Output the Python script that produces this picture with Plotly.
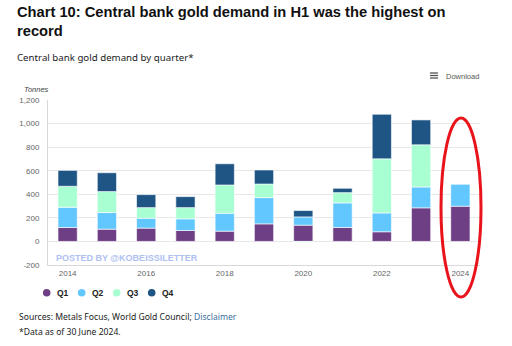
import plotly.graph_objects as go

years = [2014, 2015, 2016, 2017, 2018, 2019, 2020, 2021, 2022, 2023, 2024]
q1 = [118, 104, 113, 93, 87, 149, 138, 118, 82, 285, 299]
q2 = [172, 141, 84, 99, 152, 223, 70, 209, 160, 177, 186]
q3 = [178, 178, 90, 95, 240, 115, -6, 87, 459, 358, None]
q4 = [135, 160, 110, 93, 180, 119, 54, 37, 378, 211, None]
series_names = ["Q1", "Q2", "Q3", "Q4"]
colors = ["#6f3f85", "#63c7ff", "#a8ffd2", "#1f5585"]
tick_years = [2014, 2016, 2018, 2020, 2022, 2024]
y_ticks = [-200, 0, 200, 400, 600, 800, 1000, 1200]
y_tick_text = ["-200", "0", "200", "400", "600", "800", "1,000", "1,200"]

fig = go.Figure()
for name, vals, col in zip(series_names, [q1, q2, q3, q4], colors):
    fig.add_trace(go.Bar(x=years, y=vals, name=name, marker_color=col,
                         marker_line_color="white", marker_line_width=0.6,
                         width=0.49, showlegend=False))

W, H = 512, 346
pl, pr, pt, pb = 48, 480, 100, 265

fig.update_layout(
    width=W, height=H, barmode="relative",
    margin=dict(l=pl, r=W - pr, t=pt, b=H - pb),
    paper_bgcolor="white", plot_bgcolor="white",
    font=dict(family="Liberation Sans, Arial", color="#666666", size=8),
    xaxis=dict(range=[2013.5, 2024.5], tickvals=tick_years,
               ticktext=[str(t) for t in tick_years], showgrid=False,
               showline=True, linecolor="#d8d8d8", linewidth=1,
               ticks="", tickfont=dict(size=8, color="#666666"), zeroline=False),
    yaxis=dict(range=[-200, 1200], tickvals=y_ticks, ticktext=y_tick_text,
               showgrid=True, gridcolor="#e8e8e8", gridwidth=1,
               showline=True, linecolor="#d8d8d8", linewidth=1,
               zeroline=False, ticks="", ticklabelstandoff=6,
               tickfont=dict(size=8, color="#666666")),
    showlegend=False,
)


def px2paper(x, y):
    return (x - pl) / (pr - pl), (pb - y) / (pb - pt)


anns = [
    dict(text="<b>Chart 10: Central bank gold demand in H1 was the highest on</b>",
         x=15, y=12, font=dict(size=14.7, color="#111111", family="Liberation Sans, Arial")),
    dict(text="<b>record</b>", x=15, y=31,
         font=dict(size=14.7, color="#111111", family="Liberation Sans, Arial")),
    dict(text="Central bank gold demand by quarter*", x=15, y=58,
         font=dict(size=9.7, color="#222222", family="Noto Sans")),
    dict(text="Download", x=444, y=76, font=dict(size=7.5, color="#555555", family="Liberation Sans, Arial")),
    dict(text="<i>Tonnes</i>", x=22, y=89, font=dict(size=7.5, color="#444444", family="Liberation Sans, Arial")),
    dict(text="<b>POSTED BY @KOBEISSILETTER</b>", x=54, y=258,
         font=dict(size=9, color="#aebff2", family="Liberation Sans, Arial")),
    dict(text="Sources: Metals Focus, World Gold Council; <span style='color:#3a6f9e'>Disclaimer</span>",
         x=17, y=317, font=dict(size=8.6, color="#222222", family="Noto Sans")),
    dict(text="*Data as of 30 June 2024.", x=17, y=332,
         font=dict(size=8.6, color="#222222", family="Noto Sans")),
]
legend_x = [46.7, 81.7, 116.7, 151.7]
for name, col, lx in zip(series_names, colors, legend_x):
    cx0, cy0 = px2paper(lx - 3.8, 292.7 + 3.8)
    cx1, cy1 = px2paper(lx + 3.8, 292.7 - 3.8)
    fig.add_shape(type="circle", xref="paper", yref="paper", x0=cx0, x1=cx1, y0=cy0, y1=cy1,
                  fillcolor=col, line=dict(width=0))
    anns.append(dict(text="<b>%s</b>" % name, x=lx + 8, y=293,
                     font=dict(size=8.5, color="#222222", family="Liberation Sans, Arial")))

for a in anns:
    px, py = a.pop("x"), a.pop("y")
    ax, ay = px2paper(px, py)
    fig.add_annotation(xref="paper", yref="paper", x=ax, y=ay,
                       xanchor="left", yanchor="middle", showarrow=False, **a)

# Download icon (three lines)
for dy in [-2.5, 0, 2.5]:
    x0, y0 = px2paper(430, 75.5 + dy)
    x1, _ = px2paper(438, 75.5 + dy)
    fig.add_shape(type="line", xref="paper", yref="paper", x0=x0, x1=x1, y0=y0, y1=y0,
                  line=dict(color="#555555", width=1.3))

# red ellipse highlight
ex0, ey0 = px2paper(441, 297)
ex1, ey1 = px2paper(481, 118)
fig.add_shape(type="circle", xref="paper", yref="paper", x0=ex0, x1=ex1, y0=ey0, y1=ey1,
              line=dict(color="#e8131b", width=3))

fig.write_html("out.html")
